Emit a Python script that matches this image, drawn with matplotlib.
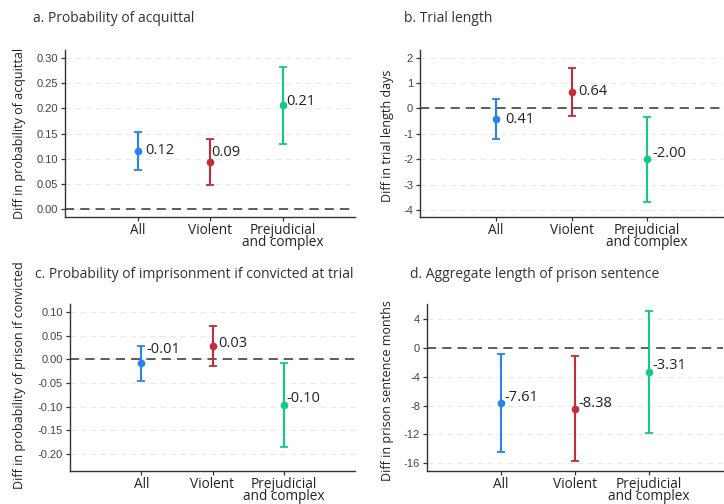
import matplotlib
matplotlib.use("Agg")
import matplotlib.pyplot as plt
from matplotlib.ticker import FormatStrFormatter

plt.rcParams["axes.unicode_minus"] = False

CATEGORIES = ["All", "Violent", "Prejudicial\nand complex"]
COLORS = ["#2583F2", "#C42C3A", "#14C986"]

# point estimates, CI bounds and printed labels per panel
ACQ_EST = [0.115, 0.093, 0.206]
ACQ_LO = [0.078, 0.047, 0.129]
ACQ_HI = [0.153, 0.139, 0.283]
ACQ_LAB = ["0.12", "0.09", "0.21"]

TRIAL_EST = [-0.42, 0.66, -2.01]
TRIAL_LO = [-1.19, -0.29, -3.67]
TRIAL_HI = [0.37, 1.58, -0.34]
TRIAL_LAB = ["0.41", "0.64", "-2.00"]

PRISON_EST = [-0.008, 0.028, -0.097]
PRISON_LO = [-0.045, -0.0145, -0.186]
PRISON_HI = [0.028, 0.070, -0.007]
PRISON_LAB = ["-0.01", "0.03", "-0.10"]

SENT_EST = [-7.63, -8.42, -3.31]
SENT_LO = [-14.5, -15.77, -11.77]
SENT_HI = [-0.75, -1.07, 5.16]
SENT_LAB = ["-7.61", "-8.38", "-3.31"]

# label nudges (pixels right, pixels up), the labels were repelled in the original
NUDGE_A = [(7.5, 1), (1.5, 9.5), (4, 4)]
NUDGE_B = [(9, 0), (6.5, 0), (5, 6)]
NUDGE_C = [(5, 13), (6, 2.5), (3, 7)]
NUDGE_D = [(3.5, 5), (3.5, 5), (3, 6)]

W, H = 724, 504
TXT = "#333333"
TEXT_FONT = ["Open Sans", "DejaVu Sans"]
TICK_FONT = ["Liberation Sans", "DejaVu Sans"]


def px_axes(fig, left, top, right, bottom):
	return fig.add_axes([left / W, 1 - bottom / H, (right - left) / W, (bottom - top) / H])


def draw_panel(ax, est, lo, hi, labels, nudges, ylim, yticks, fmt):
	x = [1, 2, 3]
	for yt in yticks:
		ax.axhline(yt, color="#e9e9e9", lw=0.8, ls=(0, (5, 4)), zorder=0)
	ax.axhline(0, color="#333333", lw=1.1, ls=(0, (6, 4)), zorder=1)
	for i in range(3):
		ax.errorbar(x[i], est[i], yerr=[[est[i] - lo[i]], [hi[i] - est[i]]],
			fmt="o", color=COLORS[i], ms=4.5, elinewidth=1.5, capsize=3, capthick=1.3, zorder=3)
		dx, dy = nudges[i]
		ax.annotate(labels[i], (x[i], est[i]), xytext=(dx * 0.72, dy * 0.72), textcoords="offset points",
			ha="left", va="center", fontsize=10.5, color="#222222", family=TEXT_FONT)
	ax.set_xlim(0, 4)
	ax.set_ylim(*ylim)
	ax.set_xticks(x, CATEGORIES)
	ax.set_yticks(yticks)
	if fmt:
		ax.yaxis.set_major_formatter(FormatStrFormatter(fmt))
	for s in ("top", "right"):
		ax.spines[s].set_visible(False)
	for s in ("left", "bottom"):
		ax.spines[s].set_color("#333333")
		ax.spines[s].set_linewidth(1.0)
	ax.tick_params(axis="y", length=3, width=0.9, color="#333333", labelsize=8, labelcolor="#444444", pad=2)
	ax.tick_params(axis="x", length=3, width=0.9, color="#333333", labelsize=9.8, labelcolor="#222222", pad=1)
	for t in ax.get_yticklabels():
		t.set_family(TICK_FONT)
	for t in ax.get_xticklabels():
		t.set_family(TEXT_FONT)
		t.set_linespacing(0.8)


fig = plt.figure(figsize=(W / 100, H / 100), dpi=100)

ax_a = px_axes(fig, 65, 50, 355, 217)
draw_panel(ax_a, ACQ_EST, ACQ_LO, ACQ_HI, ACQ_LAB, NUDGE_A, (-0.016, 0.316),
	[0.0, 0.05, 0.10, 0.15, 0.20, 0.25, 0.30], "%.2f")

ax_b = px_axes(fig, 420, 50, 723, 217)
draw_panel(ax_b, TRIAL_EST, TRIAL_LO, TRIAL_HI, TRIAL_LAB, NUDGE_B, (-4.28, 2.3),
	[-4, -3, -2, -1, 0, 1, 2], "%d")

ax_c = px_axes(fig, 70, 304, 355, 471)
draw_panel(ax_c, PRISON_EST, PRISON_LO, PRISON_HI, PRISON_LAB, NUDGE_C, (-0.236, 0.1165),
	[-0.20, -0.15, -0.10, -0.05, 0.0, 0.05, 0.10], "%.2f")

ax_d = px_axes(fig, 427, 304, 723, 471)
draw_panel(ax_d, SENT_EST, SENT_LO, SENT_HI, SENT_LAB, NUDGE_D, (-17.1, 6.14),
	[-16, -12, -8, -4, 0, 4], "%d")

titles = [
	(33, 19, "a. Probability of acquittal"),
	(404, 19, "b. Trial length"),
	(35, 275, "c. Probability of imprisonment if convicted at trial"),
	(410, 274, "d. Aggregate length of prison sentence"),
]
for tx, ty, t in titles:
	fig.text(tx / W, 1 - ty / H, t, ha="left", va="center", fontsize=10, color=TXT, family=TEXT_FONT)

ylabels = [
	(20, 133.5, "Diff in probability of acquittal"),
	(388, 136, "Diff in trial length days"),
	(20, 375, "Diff in probability of prison if convicted"),
	(388, 391, "Diff in prison sentence months"),
]
for tx, ty, t in ylabels:
	fig.text(tx / W, 1 - ty / H, t, ha="center", va="center", rotation=90, fontsize=9,
		color="#222222", family=TEXT_FONT)

fig.savefig("out.png", dpi=100)
